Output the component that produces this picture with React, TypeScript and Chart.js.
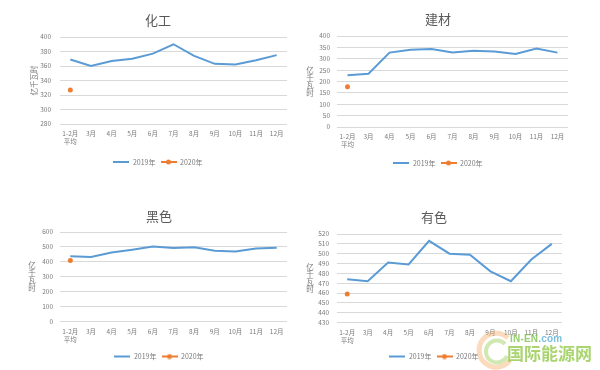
import React, { useEffect, useRef } from "react";
import { Chart, registerables } from "chart.js";

Chart.register(...registerables);

// ---------- data ----------
const categories: (string | string[])[] = [["1-2月", "平均"], "3月", "4月", "5月", "6月", "7月", "8月", "9月", "10月", "11月", "12月"];
const seriesNames = ["2019年", "2020年"];
const yAxisTitle = "亿千瓦时";
const panelTitles = ["化工", "建材", "黑色", "有色"];

const chemical2019 = [369, 360, 367, 370, 377, 390, 374, 363, 362, 368, 375];
const chemical2020 = [327, null, null, null, null, null, null, null, null, null, null];
const chemicalAxis = [280, 400, 20];

const building2019 = [228, 234, 327, 340, 343, 327, 335, 332, 321, 345, 327];
const building2020 = [177, null, null, null, null, null, null, null, null, null, null];
const buildingAxis = [0, 400, 50];

const ferrous2019 = [437, 433, 462, 481, 502, 493, 497, 475, 469, 489, 495];
const ferrous2020 = [409, null, null, null, null, null, null, null, null, null, null];
const ferrousAxis = [0, 600, 100];

const nonferrous2019 = [474, 472, 491, 489, 513, 500, 499, 482, 472, 494, 510];
const nonferrous2020 = [459, null, null, null, null, null, null, null, null, null, null];
const nonferrousAxis = [430, 520, 10];

// ---------- style / layout ----------
const FONT = "'Noto Sans CJK SC', 'Noto Sans', sans-serif";
const BLUE = "#5b9bd5";
const ORANGE = "#ed7d31";
const GRID = "#d9d9d9";
const TEXT = "#7a7a7a";
const TITLE = "#595959";
const W = 300;
const H = 185;
const TITLE_SIZE = 13;
const TICK_SIZE = 6.5;
const LEGEND_SIZE = 7;
const LEGEND_PAD = 5;

const panels = [
  { title: panelTitles[0], d19: chemical2019, d20: chemical2020, axis: chemicalAxis, left: 0, top: 0, plotL: 60, plotR: 287, plotT: 37, plotB: 124, titleCY: 20, legendCY: 162, padL: 29, tickPad: 9, yMode: "rotate", yX: 34 },
  { title: panelTitles[1], d19: building2019, d20: building2020, axis: buildingAxis, left: 300, top: 0, plotL: 37, plotR: 268, plotT: 36, plotB: 127, titleCY: 19, legendCY: 163, padL: 8, tickPad: 7, yMode: "stack", yX: 10 },
  { title: panelTitles[2], d19: ferrous2019, d20: ferrous2020, axis: ferrousAxis, left: 0, top: 185, plotL: 60, plotR: 287, plotT: 47, plotB: 137, titleCY: 31, legendCY: 172, padL: 31, tickPad: 7, yMode: "stack", yX: 32 },
  { title: panelTitles[3], d19: nonferrous2019, d20: nonferrous2020, axis: nonferrousAxis, left: 300, top: 185, plotL: 37, plotR: 262, plotT: 49, plotB: 138, titleCY: 32, legendCY: 172, padL: 6, tickPad: 8, yMode: "stack", yX: 10 },
];

const axisTitlePlugin = {
  id: "axisTitleText",
  afterDraw(chart: any, _args: any, opts: any) {
    const { ctx, chartArea } = chart;
    const cy = (chartArea.top + chartArea.bottom) / 2;
    ctx.save();
    ctx.fillStyle = TEXT;
    ctx.font = `${opts.size}px ${FONT}`;
    ctx.textAlign = "center";
    ctx.textBaseline = "middle";
    if (opts.mode === "rotate") {
      ctx.translate(opts.x, cy);
      ctx.rotate(-Math.PI / 2);
      ctx.fillText(opts.text, 0, 0);
    } else {
      const chars = Array.from(opts.text as string);
      chars.forEach((c, i) => {
        ctx.fillText(c, opts.x, cy + (i - (chars.length - 1) / 2) * opts.step);
      });
    }
    ctx.restore();
  },
};

function makeIcon(color: string, dot: boolean) {
  const c = document.createElement("canvas");
  c.width = 16;
  c.height = 6;
  const g = c.getContext("2d")!;
  g.strokeStyle = color;
  g.lineWidth = 2;
  g.beginPath();
  g.moveTo(0, 3);
  g.lineTo(16, 3);
  g.stroke();
  if (dot) {
    g.fillStyle = color;
    g.beginPath();
    g.arc(8, 3, 2.5, 0, Math.PI * 2);
    g.fill();
  }
  return c;
}

export default function App() {
  const refs = [useRef<HTMLCanvasElement>(null), useRef<HTMLCanvasElement>(null), useRef<HTMLCanvasElement>(null), useRef<HTMLCanvasElement>(null)];

  useEffect(() => {
    const icons = [makeIcon(BLUE, false), makeIcon(ORANGE, true)];
    const charts = panels.map((p, idx) => {
      const titleLH = TITLE_SIZE * 1.2;
      const titlePadTop = p.titleCY - titleLH / 2;
      const titlePadBottom = p.plotT - p.titleCY - titleLH / 2;
      const legendTop = p.legendCY - LEGEND_PAD - LEGEND_SIZE / 2;
      const legendH = LEGEND_SIZE + LEGEND_PAD + 10;
      const padBottom = Math.max(0, H - legendTop - legendH);
      const xHeight = legendTop - p.plotB;
      const yWidth = p.plotL - p.padL;
      return new Chart(refs[idx].current!, {
        type: "line",
        data: {
          labels: categories,
          datasets: [
            {
              label: seriesNames[0],
              data: p.d19,
              borderColor: BLUE,
              backgroundColor: BLUE,
              borderWidth: 2,
              pointRadius: 0,
              tension: 0,
            },
            {
              label: seriesNames[1],
              data: p.d20,
              borderColor: ORANGE,
              backgroundColor: ORANGE,
              showLine: false,
              pointRadius: 2.5,
              pointBorderWidth: 0,
            },
          ],
        },
        options: {
          responsive: false,
          animation: false,
          devicePixelRatio: 1,
          layout: { padding: { left: p.padL, right: W - p.plotR, top: 0, bottom: padBottom } },
          plugins: {
            title: {
              display: true,
              text: p.title,
              color: TITLE,
              font: { family: FONT, size: TITLE_SIZE, weight: "normal" },
              padding: { top: titlePadTop, bottom: titlePadBottom },
            },
            legend: {
              display: true,
              position: "bottom",
              labels: {
                usePointStyle: true,
                pointStyleWidth: 16,
                padding: LEGEND_PAD,
                color: TEXT,
                font: { family: FONT, size: LEGEND_SIZE },
                generateLabels: (chart: any) =>
                  (Chart.defaults.plugins.legend.labels.generateLabels as any)(chart).map((it: any, i: number) => ({ ...it, pointStyle: icons[i] })),
              },
            },
            tooltip: { enabled: false },
            axisTitleText: { text: yAxisTitle, mode: p.yMode, x: p.yX, size: 7.5, step: 7.5 },
          } as any,
          scales: {
            x: {
              offset: true,
              grid: { display: false, drawTicks: false, offset: true },
              border: { display: false },
              ticks: {
                color: TEXT,
                font: { family: FONT, size: TICK_SIZE },
                padding: 6,
                maxRotation: 0,
                autoSkip: false,
              },
              afterFit: (s: any) => {
                s.height = xHeight;
              },
            },
            y: {
              min: p.axis[0],
              max: p.axis[1],
              grid: { color: GRID, lineWidth: 1, drawTicks: false },
              border: { display: false },
              ticks: {
                stepSize: p.axis[2],
                autoSkip: false,
                color: TEXT,
                font: { family: FONT, size: TICK_SIZE },
                padding: p.tickPad,
              },
              afterFit: (s: any) => {
                s.width = yWidth;
              },
            },
          },
        },
        plugins: [axisTitlePlugin],
      } as any);
    });
    return () => charts.forEach((c) => c.destroy());
  }, []);

  return (
    <div style={{ position: "fixed", left: 0, top: 0, width: 600, height: 370, background: "#fff", overflow: "hidden" }}>
      {panels.map((p, i) => (
        <canvas
          key={i}
          ref={refs[i]}
          width={W}
          height={H}
          style={{ position: "absolute", left: p.left, top: p.top, width: W, height: H }}
        />
      ))}
      <svg style={{ position: "absolute", left: 472, top: 324, opacity: 0.4 }} width={46} height={48}>
        <path d="M36 14 A17 17 0 1 0 38 36" fill="none" stroke="#f2a65a" strokeWidth={5} />
        <path d="M33 20 A11 11 0 1 0 35 32" fill="none" stroke="#8cc63f" strokeWidth={4} />
      </svg>
      <div style={{ position: "absolute", left: 510, top: 333, fontFamily: "'Liberation Sans', sans-serif", fontWeight: "bold", fontSize: 10, color: "#7cc04a", opacity: 0.8, letterSpacing: 0.2 }}>
        IN-EN<span style={{ color: "#5aaed6" }}>.com</span>
      </div>
      <div style={{ position: "absolute", left: 507, top: 343, fontFamily: "'Noto Sans CJK SC', sans-serif", fontWeight: "bold", fontSize: 17, lineHeight: "20px", color: "#8cc63f", opacity: 0.75 }}>
        国际能源网
      </div>
    </div>
  );
}
